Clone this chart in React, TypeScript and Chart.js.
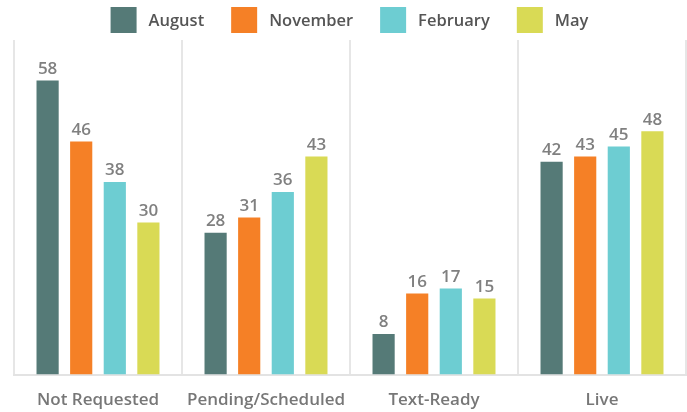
import React, { useEffect, useRef } from "react";
import { Chart, registerables } from "chart.js";

Chart.register(...registerables);

const categories = ["Not Requested", "Pending/Scheduled", "Text-Ready", "Live"];
const seriesNames = ["August", "November", "February", "May"];
const august = [58, 28, 8, 42];
const november = [46, 31, 16, 43];
const february = [38, 36, 17, 45];
const may = [30, 43, 15, 48];
const colors = ["#557a77", "#f58026", "#6dcdd2", "#d9da55"];

const dataLabelPlugin = {
  id: "dataLabels",
  afterDatasetsDraw(chart: any) {
    const ctx = chart.ctx;
    ctx.save();
    ctx.font = "600 17px 'Open Sans'";
    ctx.fillStyle = "#808080";
    ctx.textAlign = "center";
    ctx.textBaseline = "bottom";
    chart.data.datasets.forEach((ds: any, i: number) => {
      const meta = chart.getDatasetMeta(i);
      meta.data.forEach((bar: any, j: number) => {
        ctx.fillText(String(ds.data[j]), bar.x, bar.y - 3);
      });
    });
    ctx.restore();
  },
};

const legendPlugin = {
  id: "customLegend",
  afterDraw(chart: any) {
    const ctx = chart.ctx;
    ctx.save();
    ctx.font = "600 16.5px 'Open Sans'";
    const box = 26;
    const gapText = 12;
    const gapItem = 27;
    const widths = chart.data.datasets.map((ds: any) => ctx.measureText(ds.label).width);
    const total = widths.reduce((a: number, w: number) => a + box + gapText + w, 0) + gapItem * (widths.length - 1);
    let x = 349.5 - total / 2;
    const top = 7;
    ctx.textBaseline = "middle";
    ctx.textAlign = "left";
    chart.data.datasets.forEach((ds: any, i: number) => {
      ctx.fillStyle = ds.backgroundColor;
      ctx.fillRect(x, top, box, box);
      ctx.fillStyle = "#555555";
      ctx.fillText(ds.label, x + box + gapText, top + box / 2 + 1);
      x += box + gapText + widths[i] + gapItem;
    });
    ctx.restore();
  },
};

export default function App() {
  const ref = useRef<HTMLCanvasElement>(null);
  useEffect(() => {
    const seriesData = [august, november, february, may];
    const chart = new Chart(ref.current!, {
      type: "bar",
      data: {
        labels: categories,
        datasets: seriesNames.map((name, i) => ({
          label: name,
          data: seriesData[i],
          backgroundColor: colors[i],
          borderWidth: 0,
          categoryPercentage: 0.8,
          barPercentage: 0.66,
        })),
      },
      options: {
        animation: false,
        responsive: false,
        maintainAspectRatio: false,
        layout: { padding: { left: 14, right: 1, top: 40, bottom: -13 } },
        plugins: {
          legend: { display: false },
          tooltip: { enabled: false },
        },
        scales: {
          x: {
            grid: { display: true, offset: true, color: "#e6e6e6", lineWidth: 2, drawTicks: false },
            border: { display: true, color: "#e3e3e3", width: 2 },
            ticks: {
              color: "#777777",
              padding: 15,
              font: { family: "'Open Sans'", size: 17, weight: "600" },
            },
          },
          y: {
            display: false,
            min: 0,
            max: 66,
          },
        },
      },
      plugins: [dataLabelPlugin, legendPlugin],
    });
    return () => chart.destroy();
  }, []);
  return (
    <div style={{ position: "absolute", left: 0, top: 0, width: 687, height: 412, background: "#fff" }}>
      <canvas ref={ref} width={687} height={412} />
    </div>
  );
}
